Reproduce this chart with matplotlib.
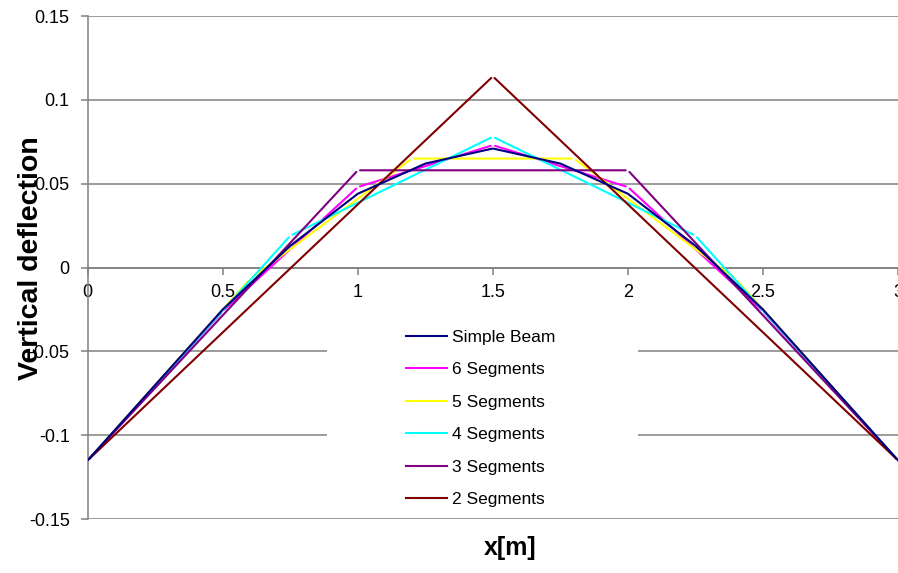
import matplotlib
matplotlib.use("Agg")
import matplotlib.pyplot as plt
from matplotlib.patches import Rectangle

plt.rcParams['font.family'] = ['Liberation Sans', 'DejaVu Sans']

# Data
beam_x = [0, 0.25, 0.5, 0.75, 1.0, 1.25, 1.5, 1.75, 2.0, 2.25, 2.5, 2.75, 3.0]
beam_y = [-0.115, -0.070, -0.025, 0.013, 0.044, 0.062, 0.071, 0.062, 0.044, 0.013, -0.025, -0.070, -0.115]

seg6_x = [0, 0.5, 1.0, 1.5, 2.0, 2.5, 3.0]
seg6_y = [-0.115, -0.026, 0.048, 0.073, 0.048, -0.026, -0.115]

seg5_x = [0, 0.6, 1.2, 1.8, 2.4, 3.0]
seg5_y = [-0.115, -0.007, 0.065, 0.065, -0.007, -0.115]

seg4_x = [0, 0.75, 1.5, 2.25, 3.0]
seg4_y = [-0.115, 0.019, 0.078, 0.019, -0.115]

seg3_x = [0, 1.0, 2.0, 3.0]
seg3_y = [-0.115, 0.058, 0.058, -0.115]

seg2_x = [0, 1.5, 3.0]
seg2_y = [-0.115, 0.114, -0.115]

labels = ["Simple Beam", "6 Segments", "5 Segments", "4 Segments", "3 Segments", "2 Segments"]
colors = ["#000080", "#FF00FF", "#FFFF00", "#00FFFF", "#800080", "#800000"]

x_ticks = [0, 0.5, 1, 1.5, 2, 2.5, 3]
x_ticklabels = ["0", "0.5", "1", "1.5", "2", "2.5", "3"]
y_ticks = [-0.15, -0.1, -0.05, 0, 0.05, 0.1, 0.15]
y_ticklabels = ["-0.15", "-0.1", "-0.05", "0", "0.05", "0.1", "0.15"]

fig = plt.figure(figsize=(8.98, 5.73), dpi=100)
ax = fig.add_axes([0.0977, 0.0942, 0.9023, 0.8778])
ax.set_xlim(0, 3)
ax.set_ylim(-0.15, 0.15)

grid_c = "#808080"
for yv in y_ticks:
    ax.axhline(yv, color=grid_c, lw=1.1, zorder=1)

# legend background box (Excel-style white legend area)
ax.add_patch(Rectangle((0.2954, 0.008), 0.384, 0.39, transform=ax.transAxes,
                       facecolor="white", edgecolor="none", zorder=2))

lw = 1.5
ax.plot(beam_x, beam_y, color=colors[0], lw=lw, zorder=4)

def seg_plot(xs, ys, c, z):
    for i in range(len(xs) - 1):
        ax.annotate("", xy=(xs[i + 1], ys[i + 1]), xytext=(xs[i], ys[i]),
                    arrowprops=dict(arrowstyle="-", color=c, lw=lw,
                                    shrinkA=1.6, shrinkB=1.6),
                    zorder=z)

series = [(seg6_x, seg6_y), (seg5_x, seg5_y), (seg4_x, seg4_y), (seg3_x, seg3_y), (seg2_x, seg2_y)]
for k, (xs, ys) in enumerate(series):
    seg_plot(xs, ys, colors[k + 1], 3 + k * 0.1)

handles = []
for lab, c in zip(labels, colors):
    h, = ax.plot([], [], color=c, lw=lw, label=lab)
    handles.append(h)

leg = ax.legend(handles=handles, loc="center", bbox_to_anchor=(0.485, 0.2),
                frameon=False, fontsize=12.5, labelspacing=1.0,
                handlelength=2.4, handletextpad=0.3)
leg.set_zorder(5)

# spines
for s in ["top", "right", "bottom"]:
    ax.spines[s].set_visible(False)
ax.spines["left"].set_color(grid_c)
ax.spines["left"].set_linewidth(1.1)
ax.spines["bottom"].set_visible(True)
ax.spines["bottom"].set_position(("data", 0))
ax.spines["bottom"].set_color(grid_c)
ax.spines["bottom"].set_linewidth(1.1)

ax.set_xticks(x_ticks)
ax.set_xticklabels(x_ticklabels)
ax.set_yticks(y_ticks)
ax.set_yticklabels(y_ticklabels)
ax.tick_params(axis="x", direction="out", length=5, width=1.1, color=grid_c,
               labelsize=13, pad=7)
ax.tick_params(axis="y", direction="out", length=5, width=1.1, color=grid_c,
               labelsize=13, pad=8)
for t in ax.get_xticklabels() + ax.get_yticklabels():
    t.set_clip_on(False)

fig.text(0.034, 0.55, "Vertical deflection", rotation=90, fontsize=20.5,
         fontweight="bold", ha="center", va="center")
fig.text(0.568, 0.043, "x[m]", fontsize=18, fontweight="bold",
         ha="center", va="center")

fig.savefig("out.png", dpi=100)
